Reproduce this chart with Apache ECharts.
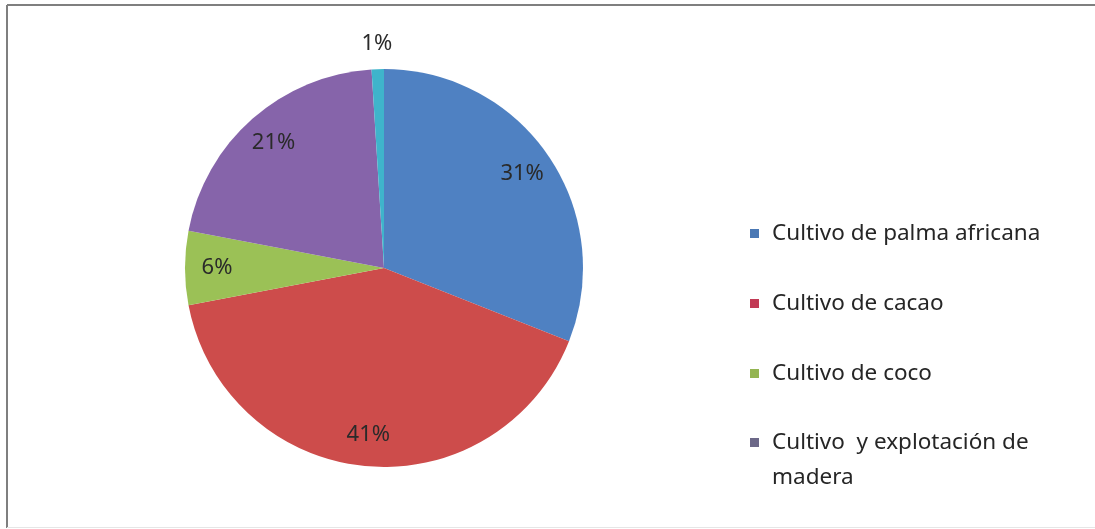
<!DOCTYPE html>
<html>
<head>
<meta charset="utf-8">
<title>Distribución de cultivos</title>
<script src="https://cdn.jsdelivr.net/npm/echarts@6/dist/echarts.min.js"></script>
<style>
  html, body { margin: 0; padding: 0; background: #ffffff; }
  #chart { width: 1095px; height: 529px; }
</style>
</head>
<body>
<div id="chart"></div>
<script>
// Activity categories and their shares (percent)
const categories = [
  'Cultivo de palma africana',
  'Cultivo de cacao',
  'Cultivo de coco',
  'Cultivo  y explotación de madera',
  'Otros'
];
const shares = [31, 41, 6, 21, 1];
const sliceColors = ['#4f81c2', '#cd4c4b', '#9bc156', '#8664aa', '#3fb4cb'];
const legendIconColors = ['#4a78b4', '#c23a55', '#94b552', '#6c6888'];

const FONT = '"Noto Sans", "Open Sans", sans-serif';

const pieData = categories.map((name, i) => ({
  name: name,
  value: shares[i],
  itemStyle: { color: sliceColors[i] }
}));

// Transparent rings only used to place the percentage labels
const labelFmt = p => Math.round(p.percent) + '%';
const innerLabelData = categories.map((name, i) => ({
  name: name,
  value: shares[i],
  label: { show: i < 4 }
}));
const outerLabelData = categories.map((name, i) => ({
  name: name,
  value: shares[i],
  label: { show: i === 4 }
}));

const labelRing = (radius, data) => ({
  type: 'pie',
  center: [384, 268],
  radius: radius,
  startAngle: 90,
  clockwise: true,
  silent: true,
  avoidLabelOverlap: false,
  legendHoverLink: false,
  itemStyle: { color: 'rgba(0,0,0,0)', borderWidth: 0 },
  label: {
    position: 'inside',
    formatter: labelFmt,
    color: '#2a2a2a',
    fontFamily: FONT,
    fontSize: 22
  },
  labelLine: { show: false },
  emphasis: { disabled: true },
  data: data,
  z: 5
});

const chart = echarts.init(document.getElementById('chart'), null, { renderer: 'canvas' });

const legendBase = {
  orient: 'vertical',
  left: 745,
  itemWidth: 9,
  itemHeight: 9,
  icon: 'rect',
  selectedMode: false,
  textStyle: {
    fontFamily: FONT,
    fontSize: 22.5,
    color: '#262626',
    lineHeight: 35,
    padding: [0, 0, 0, 8]
  }
};

chart.setOption({
  animation: false,
  backgroundColor: '#ffffff',
  graphic: [
    { type: 'line', shape: { x1: 7, y1: 5, x2: 1095, y2: 5 }, style: { stroke: '#7f7f7f', lineWidth: 2 } },
    { type: 'line', shape: { x1: 7, y1: 5, x2: 7, y2: 528 }, style: { stroke: '#7f7f7f', lineWidth: 2 } },
    { type: 'line', shape: { x1: 7, y1: 527.5, x2: 1095, y2: 527.5 }, style: { stroke: '#e6e6e6', lineWidth: 1 } }
  ],
  legend: [
    Object.assign({}, legendBase, {
      top: 211,
      itemGap: 35,
      data: categories.slice(0, 3).map((n, i) => ({ name: n, itemStyle: { color: legendIconColors[i] } }))
    }),
    Object.assign({}, legendBase, {
      top: 385,
      // leading blank line keeps the first text line level with the icon
      formatter: name => '\n' + name,
      data: [{
        name: categories[3],
        itemStyle: { color: legendIconColors[3] },
        textStyle: { width: 300, overflow: 'break' }
      }]
    })
  ],
  series: [
    {
      type: 'pie',
      center: [384, 268],
      radius: [0, 199],
      startAngle: 90,
      clockwise: true,
      label: { show: false },
      labelLine: { show: false },
      itemStyle: { borderWidth: 0 },
      emphasis: { disabled: true },
      data: pieData,
      z: 2
    },
    labelRing([128, 200], innerLabelData),
    labelRing([200, 242], outerLabelData)
  ]
});
</script>
</body>
</html>
